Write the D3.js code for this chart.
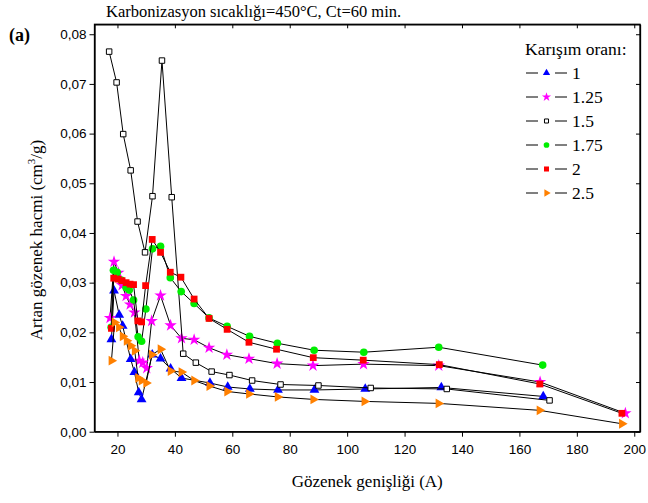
<!DOCTYPE html>
<html><head><meta charset="utf-8">
<script src="https://cdn.jsdelivr.net/npm/d3@7"></script>
<style>body{margin:0;background:#fff}svg{display:block}</style>
</head><body>
<svg id="c" width="648" height="503"></svg>
<script>
const xTicks = [20,40,60,80,100,120,140,160,180,200];
const yTicks = [0,0.01,0.02,0.03,0.04,0.05,0.06,0.07,0.08];
const seriesNames = ["1","1.25","1.5","1.75","2","2.5"];

const s1x = [17.9,18.8,20.6,21.8,24.6,25.9,27.4,28.4,32.1,35.0,38.5,42.3,52.2,58.4,66.1,75.9,88.6,106.3,132.8,168.3];
const s1y = [0.0186,0.0284,0.0235,0.0213,0.0146,0.0120,0.0079,0.0065,0.0155,0.0147,0.0127,0.0108,0.0098,0.0090,0.0086,0.0084,0.0084,0.0086,0.0089,0.0071];

const s125x = [17.4,18.8,20.3,21.6,23.0,24.4,25.9,27.6,28.8,30.2,31.9,35.0,38.5,42.3,46.7,51.9,58.1,65.8,75.6,88.1,105.7,131.9,167.2,196.9];
const s125y = [0.0229,0.0342,0.0320,0.0295,0.0273,0.0256,0.0240,0.0143,0.0139,0.0128,0.0223,0.0274,0.0214,0.0188,0.0185,0.0169,0.0155,0.0147,0.0137,0.0133,0.0136,0.0133,0.0100,0.0037];

const s15x = [17.1,19.7,22.0,24.6,27.0,29.6,32.2,35.5,38.9,42.9,47.3,52.8,59.0,66.9,76.8,90.0,108.2,134.7,170.5];
const s15y = [0.0765,0.0703,0.0599,0.0526,0.0423,0.0361,0.0474,0.0747,0.0472,0.0157,0.0139,0.0121,0.0114,0.0103,0.0095,0.0093,0.0088,0.0086,0.0063];

const s175x = [17.8,18.6,19.9,21.3,23.0,24.1,25.6,27.2,28.4,29.9,32.2,35.0,38.4,42.2,46.7,51.9,58.2,66.0,75.7,88.5,105.8,131.9,168.1];
const s175y = [0.0210,0.0325,0.0321,0.0305,0.0290,0.0285,0.0265,0.0191,0.0182,0.0247,0.0368,0.0373,0.0310,0.0282,0.0258,0.0229,0.0212,0.0192,0.0178,0.0164,0.0160,0.0170,0.0134];

const s2x = [17.9,18.7,20.2,21.6,23.0,24.4,25.6,27.1,28.4,29.8,32.1,35.0,38.4,42.1,46.7,51.9,58.2,65.8,75.4,88.2,105.6,132.1,167.1,195.7];
const s2y = [0.0208,0.0309,0.0307,0.0304,0.0300,0.0297,0.0296,0.0223,0.0221,0.0294,0.0387,0.0361,0.0321,0.0311,0.0267,0.0228,0.0206,0.0180,0.0166,0.0149,0.0144,0.0135,0.0096,0.0037];

const s25x = [17.9,19.0,20.5,21.8,23.2,24.6,26.0,27.2,28.4,30.0,32.0,35.0,38.5,42.3,46.7,52.0,58.2,65.8,75.8,88.2,106.0,131.8,167.0,195.7];
const s25y = [0.0143,0.0220,0.0210,0.0192,0.0183,0.0173,0.0163,0.0108,0.0103,0.0098,0.0155,0.0166,0.0122,0.0120,0.0103,0.0092,0.0081,0.0076,0.0070,0.0065,0.0061,0.0057,0.0043,0.0016];

const svg = d3.select("#c");
const L = 94.5, R = 640, T = 24.3, B = 431.7;
const x = d3.scaleLinear().domain([12, 202]).range([L, R]);
const y = d3.scaleLinear().domain([0, 0.082]).range([B, T]);
const fY = v => d3.format(".2f")(v).replace(".", ",");
const serif = "Liberation Serif, Times New Roman, serif";

const series = [
  {name:seriesNames[0], xs:s1x, ys:s1y, sym:d3.symbolTriangle, size:42, fill:"#0000ff", stroke:"none", rot:0},
  {name:seriesNames[1], xs:s125x, ys:s125y, sym:d3.symbolStar, size:48, fill:"#ff00ff", stroke:"none", rot:0},
  {name:seriesNames[2], xs:s15x, ys:s15y, sym:d3.symbolSquare, size:30, fill:"#ffffff", stroke:"#000", rot:0},
  {name:seriesNames[3], xs:s175x, ys:s175y, sym:d3.symbolCircle, size:46, fill:"#00ee00", stroke:"none", rot:0},
  {name:seriesNames[4], xs:s2x, ys:s2y, sym:d3.symbolSquare, size:46, fill:"#ff0000", stroke:"none", rot:0},
  {name:seriesNames[5], xs:s25x, ys:s25y, sym:d3.symbolTriangle, size:42, fill:"#ff8000", stroke:"none", rot:90}
];

// frame
svg.append("rect").attr("x", L).attr("y", T).attr("width", R-L).attr("height", B-T)
  .attr("fill","none").attr("stroke","#000").attr("stroke-width",1.3);

// axes
const ax = svg.append("g").attr("transform", `translate(0,${B})`)
  .call(d3.axisBottom(x).tickValues(xTicks).tickSize(5).tickSizeOuter(0).tickFormat(d3.format("d")));
const ay = svg.append("g").attr("transform", `translate(${L},0)`)
  .call(d3.axisLeft(y).tickValues(yTicks).tickSize(5).tickSizeOuter(0).tickFormat(fY));
const axT = svg.append("g").attr("transform", `translate(0,${T})`)
  .call(d3.axisBottom(x).tickValues(xTicks).tickSize(4).tickSizeOuter(0).tickFormat(""));
const ayR = svg.append("g").attr("transform", `translate(${R},0)`)
  .call(d3.axisLeft(y).tickValues(yTicks).tickSize(4).tickSizeOuter(0).tickFormat(""));
[ax, ay, axT, ayR].forEach(g => {
  g.select(".domain").attr("stroke","#000").attr("stroke-width",1.3);
  g.selectAll(".tick line").attr("stroke","#000").attr("stroke-width",1);
  g.selectAll("text").attr("font-family","Liberation Sans, Arial, sans-serif").attr("font-size",13.5).attr("fill","#000");
});
ax.selectAll("text").attr("dy","1.05em");
ay.selectAll("text").attr("x",-8);

// series
series.forEach(s => {
  const pts = s.xs.map((v,i)=>[v, s.ys[i]]);
  svg.append("path").datum(pts)
    .attr("d", d3.line().x(d=>x(d[0])).y(d=>y(d[1])))
    .attr("fill","none").attr("stroke","#000").attr("stroke-width",1);
  svg.append("g").selectAll("path").data(pts).join("path")
    .attr("d", d3.symbol().type(s.sym).size(s.size))
    .attr("transform", d => `translate(${x(d[0])},${y(d[1])}) rotate(${s.rot})`)
    .attr("fill", s.fill).attr("stroke", s.stroke).attr("stroke-width", 1);
});

// legend
const lg = svg.append("g").attr("font-family",serif).attr("font-size",17.5);
lg.append("text").attr("x",525).attr("y",55).text("Karışım oranı:");
series.forEach((s,i) => {
  const yy = 73 + i*24;
  lg.append("line").attr("x1",526).attr("x2",538).attr("y1",yy).attr("y2",yy).attr("stroke","#000").attr("stroke-width",1);
  lg.append("line").attr("x1",555).attr("x2",567).attr("y1",yy).attr("y2",yy).attr("stroke","#000").attr("stroke-width",1);
  lg.append("path").attr("d", d3.symbol().type(s.sym).size(s.size*0.55))
    .attr("transform",`translate(546.5,${yy}) rotate(${s.rot})`)
    .attr("fill", s.fill).attr("stroke", s.stroke).attr("stroke-width",1);
  lg.append("text").attr("x",572).attr("y",yy+6).text(s.name);
});

// titles
svg.append("text").attr("x",106).attr("y",17).attr("font-family",serif)
  .attr("font-size",16.5).text("Karbonizasyon sıcaklığı=450°C, Ct=60 min.");
svg.append("text").attr("x",9).attr("y",41).attr("font-family",serif)
  .attr("font-size",18).attr("font-weight","bold").text("(a)");
svg.append("text").attr("x",(L+R)/2).attr("y",487).attr("text-anchor","middle")
  .attr("font-family",serif).attr("font-size",17).text("Gözenek genişliği (A)");
const yt = svg.append("text").attr("transform","translate(42,240) rotate(-90)").attr("text-anchor","middle")
  .attr("font-family",serif).attr("font-size",17);
yt.append("tspan").text("Artan gözenek hacmi (cm");
yt.append("tspan").attr("font-size",11).attr("dy",-7).text("3");
yt.append("tspan").attr("dy",7).text("/g)");
</script>
</body></html>
